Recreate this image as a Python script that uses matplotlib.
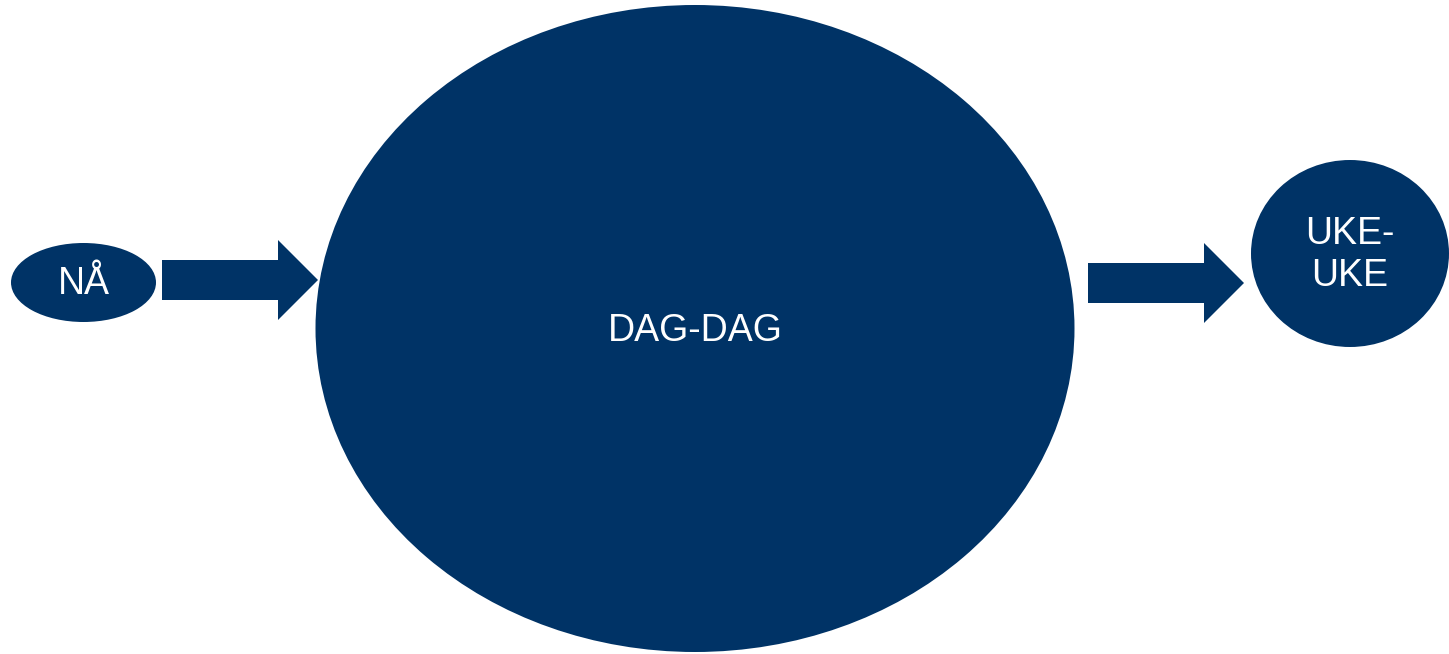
import matplotlib
matplotlib.use('Agg')
import matplotlib.pyplot as plt
from matplotlib.patches import Ellipse, Polygon

# steg i prosessen
labels = ['NÅ', 'DAG-DAG', 'UKE-\nUKE']

# ellipser: senter x, senter y, bredde, høyde (piksler)
ell_x = [83.5, 695, 1350]
ell_y = [282.5, 328.5, 253.5]
ell_w = [145, 759, 198]
ell_h = [79, 647, 187]

# tekstplassering
txt_y = [284, 331, 255]

# piler: start x, slutt av kropp, spiss x, midt y, halv kroppshøyde, halv hodehøyde
arrows = [(162, 278, 318, 280, 20, 40),
          (1088, 1204, 1244, 283, 20, 40)]

farge = '#003366'

fig = plt.figure(figsize=(14.49, 6.54), dpi=100)
ax = fig.add_axes([0, 0, 1, 1])
ax.set_xlim(0, 1449)
ax.set_ylim(654, 0)
ax.axis('off')

for x, y, w, h, ty, lab in zip(ell_x, ell_y, ell_w, ell_h, txt_y, labels):
    ax.add_patch(Ellipse((x, y), w, h, facecolor=farge, edgecolor='none'))
    ax.text(x, ty, lab, color='white', fontsize=27, ha='center', va='center',
            family='Liberation Sans', linespacing=1.2)

for x0, x1, xt, ym, bh, hh in arrows:
    pts = [(x0, ym - bh), (x1, ym - bh), (x1, ym - hh), (xt, ym),
           (x1, ym + hh), (x1, ym + bh), (x0, ym + bh)]
    ax.add_patch(Polygon(pts, closed=True, facecolor=farge, edgecolor='none'))

fig.savefig('out.png', dpi=100)
